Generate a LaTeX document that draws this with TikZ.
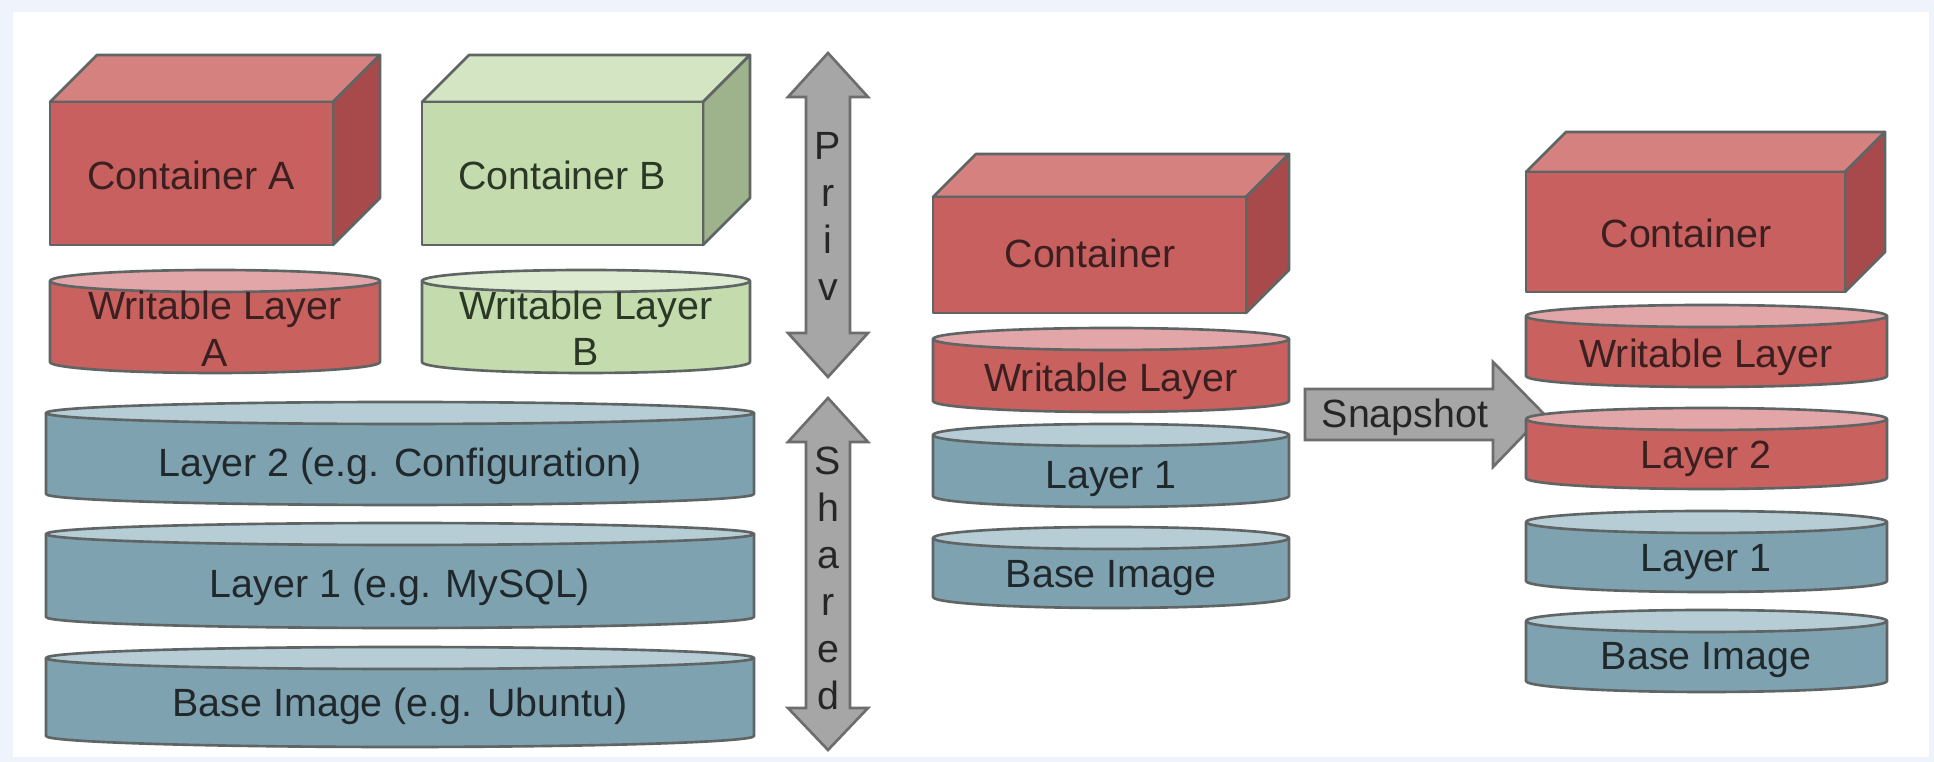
\documentclass[tikz,border=0pt]{standalone}
\usepackage{fontspec}
\setmainfont{Liberation Sans}
\usepackage{tikz}
\usetikzlibrary{positioning}

\definecolor{bgblue}{HTML}{EEF3FC}
\definecolor{edgegray}{HTML}{5F6465}
\definecolor{redfront}{HTML}{C8605F}
\definecolor{redlid}{HTML}{D5817F}
\definecolor{redside}{HTML}{A84A4B}
\definecolor{redbody}{HTML}{C9615F}
\definecolor{redtop}{HTML}{E3A6A8}
\definecolor{greenfront}{HTML}{C4DBAE}
\definecolor{greenlid}{HTML}{D4E5C3}
\definecolor{greenside}{HTML}{9EB38C}
\definecolor{greenbody}{HTML}{C4DBAE}
\definecolor{greentop}{HTML}{DDEBD0}
\definecolor{bluebody}{HTML}{7FA2B0}
\definecolor{bluetop}{HTML}{B6CDD6}
\definecolor{arrowgray}{HTML}{A6A6A6}
\definecolor{arrowedge}{HTML}{6D6D6D}
\definecolor{redtext}{HTML}{3A2020}
\definecolor{greentext}{HTML}{2C3826}
\definecolor{bluetext}{HTML}{20282C}

% box: left, right, top, bottom, depth, colour
\newcommand{\cubeshape}[6]{%
  \filldraw[edge, fill=#6lid] (#1,#3) -- ++(#5,-#5) -- (#2+#5,#3-#5) -- (#2,#3) -- cycle;
  \filldraw[edge, fill=#6side] (#2,#3) -- (#2+#5,#3-#5) -- (#2+#5,#4-#5) -- (#2,#4) -- cycle;
  \filldraw[edge, fill=#6front] (#1,#3) rectangle (#2,#4);
}
% layer disc: left, right, top, bottom, colour
\newcommand{\layershape}[5]{%
  \filldraw[edge, fill=#5body] (#1,#3+11) -- (#1,#4-11)
    arc[start angle=180, end angle=0, x radius={(#2-#1)/2}, y radius=11] -- (#2,#3+11) -- cycle;
  \filldraw[edge, fill=#5top] ({(#1+#2)/2},#3+11) ellipse[x radius={(#2-#1)/2}, y radius=11];
}

\begin{document}
\begin{tikzpicture}[
		x=0.01cm, y=-0.01cm,
		edge/.style={draw=edgegray, line width=0.75pt, line join=round},
		blockarrow/.style={draw=arrowedge, fill=arrowgray, line width=0.75pt},
		lbl/.style={font=\fontsize{11.2}{13.4}\selectfont, inner sep=0pt, anchor=base},
		redlbl/.style={lbl, text=redtext},
		greenlbl/.style={lbl, text=greentext},
		bluelbl/.style={lbl, text=bluetext},
		graylbl/.style={lbl, text=black!85}
		]
		% background
		\useasboundingbox (0,0) rectangle (1934,762);
		\fill[bgblue] (0,0) rectangle (1934,762);
		\fill[white] (13,12) rectangle (1929,757);
		
		% left part: two containers over shared layers
		\cubeshape{50}{333}{102}{245}{47}{red}
		\cubeshape{422}{703}{102}{245}{47}{green}
		\node[redlbl] (conta) at (191,190) {Container A};
		\node[greenlbl] (contb) at (562,190) {Container B};
		\layershape{50}{380}{270}{373}{red}
		\layershape{422}{750}{270}{373}{green}
		\node[redlbl] (wla) at (215,320) {Writable Layer};
		\node[redlbl] (wlaname) at (215,367) {A};
		\node[greenlbl] (wlb) at (586,320) {Writable Layer};
		\node[greenlbl] (wlbname) at (586,366) {B};
		\layershape{46}{754}{402}{505}{blue}
		\layershape{46}{754}{523}{628}{blue}
		\layershape{46}{754}{647}{747}{blue}
		\node[bluelbl] (lay2) at (400,477) {Layer 2 (e.g. Configuration)};
		\node[bluelbl] (lay1) at (400,598) {Layer 1 (e.g. MySQL)};
		\node[bluelbl] (base) at (400,717) {Base Image (e.g. Ubuntu)};
		
		% private / shared arrows
		\filldraw[blockarrow] (828,53) -- (868,97) -- (850,97) -- (850,333) -- (868,333)
		-- (828,377) -- (788,333) -- (806,333) -- (806,97) -- (788,97) -- cycle;
		\filldraw[blockarrow] (828,398) -- (868,442) -- (850,442) -- (850,708) -- (868,708)
		-- (828,750) -- (788,708) -- (806,708) -- (806,442) -- (788,442) -- cycle;
		\foreach \c [count=\i] in {P,r,i,v}
		\node[graylbl] (priv\i) at (828,113+47*\i) {\c};
		\foreach \c [count=\i] in {S,h,a,r,e,d}
		\node[graylbl] (shared\i) at (828,428+47*\i) {\c};
		
		% middle stack
		\cubeshape{933}{1246}{197}{313}{43}{red}
		\node[redlbl] (cont) at (1090,268) {Container};
		\layershape{933}{1289}{328}{412}{red}
		\layershape{933}{1289}{424}{507}{blue}
		\layershape{933}{1289}{527}{608}{blue}
		\node[redlbl] (wl) at (1111,392) {Writable Layer};
		\node[bluelbl] (l1) at (1111,489) {Layer 1};
		\node[bluelbl] (bi) at (1111,588) {Base Image};
		
		% snapshot arrow
		\filldraw[blockarrow] (1305,389) -- (1493,389) -- (1493,362) -- (1544,414)
		-- (1493,467) -- (1493,440) -- (1305,440) -- cycle;
		\node[graylbl] (snap) at (1405,428) {Snapshot};
		
		% right stack
		\cubeshape{1526}{1845}{172}{292}{40}{red}
		\node[redlbl] (newcont) at (1686,248) {Container};
		\layershape{1526}{1887}{305}{387}{red}
		\layershape{1526}{1887}{408}{489}{red}
		\layershape{1526}{1887}{511}{592}{blue}
		\layershape{1526}{1887}{610}{692}{blue}
		\node[redlbl] (newwl) at (1706,368) {Writable Layer};
		\node[redlbl] (newl2) at (1706,469) {Layer 2};
		\node[bluelbl] (newl1) at (1706,572) {Layer 1};
		\node[bluelbl] (newbi) at (1706,670) {Base Image};
	\end{tikzpicture}
\end{document}
